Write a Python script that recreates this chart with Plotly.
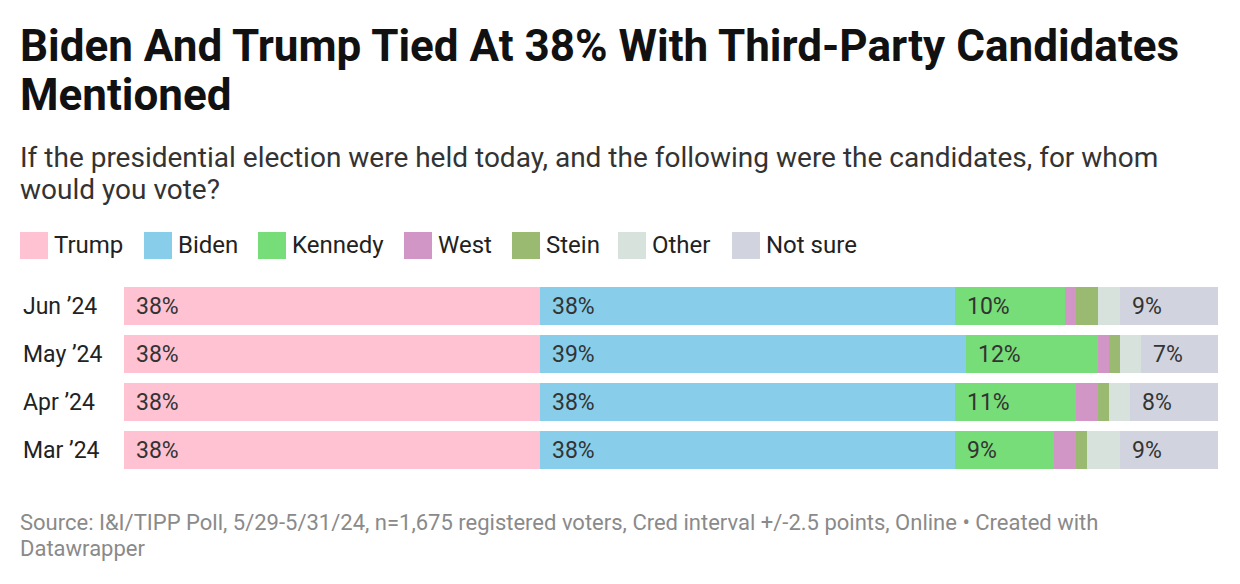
import plotly.graph_objects as go

months = ["Jun ’24", "May ’24", "Apr ’24", "Mar ’24"]
series_names = ["Trump", "Biden", "Kennedy", "West", "Stein", "Other", "Not sure"]
trump = [38, 38, 38, 38]
biden = [38, 39, 38, 38]
kennedy = [10, 12, 11, 9]
west = [1, 1, 2, 2]
stein = [2, 1, 1, 1]
other = [2, 2, 2, 3]
not_sure = [9, 7, 8, 9]
labeled = ["Trump", "Biden", "Kennedy", "Not sure"]

values = [trump, biden, kennedy, west, stein, other, not_sure]
colors = ["#fec2d2", "#88ceea", "#77dd78", "#d196c5", "#99ba70", "#d7e2dc", "#d1d3df"]

W, H = 1240, 584
OFF = 8  # page offset of the rendered figure
L, R = 116, 30
T, B = 274, 118
PW = W - L - R
PH = H - T - B


def px2x(px):
    return (px - OFF - L) / PW


def py2y(py):
    return (T + PH - (py - OFF)) / PH


FONT = "Roboto"
fig = go.Figure()
for name, vals, col in zip(series_names, values, colors):
    fig.add_trace(go.Bar(y=months, x=vals, name=name, orientation="h",
                         marker=dict(color=col, line=dict(width=0)),
                         showlegend=False, hoverinfo="x+name"))

annotations = []
for i, m in enumerate(months):
    cum = 0
    for name, vals in zip(series_names, values):
        if name in labeled:
            annotations.append(dict(x=cum, y=m, xref="x", yref="y", text=f"{vals[i]}%",
                                    showarrow=False, xanchor="left", xshift=10,
                                    font=dict(family=FONT, size=23, color="#333333")))
        cum += vals[i]
    annotations.append(dict(x=px2x(21), y=m, xref="paper", yref="y", text=m,
                            showarrow=False, xanchor="left",
                            font=dict(family=FONT, size=23, color="#222222")))


def text_line(txt, px, py, size, color, bold=False):
    if bold:
        txt = f"<b>{txt}</b>"
    annotations.append(dict(x=px2x(px), y=py2y(py), xref="paper", yref="paper",
                            xanchor="left", yanchor="middle", align="left", showarrow=False,
                            text=txt, font=dict(family=FONT, size=size, color=color)))


text_line("Biden And Trump Tied At 38% With Third-Party Candidates", 18, 46, 44, "#111111", True)
text_line("Mentioned", 18, 95, 44, "#111111", True)
text_line("If the presidential election were held today, and the following were the candidates, for whom",
          18, 157, 28, "#333333")
text_line("would you vote?", 18, 189, 28, "#333333")
text_line("Source: I&amp;I/TIPP Poll, 5/29-5/31/24, n=1,675 registered voters, Cred interval +/-2.5 points, Online • Created with",
          18, 522, 22, "#8a8a8a")
text_line("Datawrapper", 18, 548, 22, "#8a8a8a")

legend_x = [20, 144, 258, 404, 512, 618, 732]
shapes = []
for name, col, lx in zip(series_names, colors, legend_x):
    shapes.append(dict(type="rect", xref="paper", yref="paper",
                       x0=px2x(lx), x1=px2x(lx + 28), y0=py2y(259), y1=py2y(232),
                       fillcolor=col, line=dict(width=0)))
    text_line(name, lx + 32, 245, 24, "#222222")

fig.update_layout(
    width=W, height=H,
    margin=dict(l=L, r=R, t=T, b=B, pad=0),
    barmode="stack", bargap=0.19,
    paper_bgcolor="white", plot_bgcolor="white",
    xaxis=dict(range=[0, 100], visible=False, fixedrange=True),
    yaxis=dict(categoryorder="array", categoryarray=months, autorange="reversed",
               visible=False, fixedrange=True),
    annotations=annotations, shapes=shapes,
    font=dict(family=FONT),
)
fig.write_html("out.html")
